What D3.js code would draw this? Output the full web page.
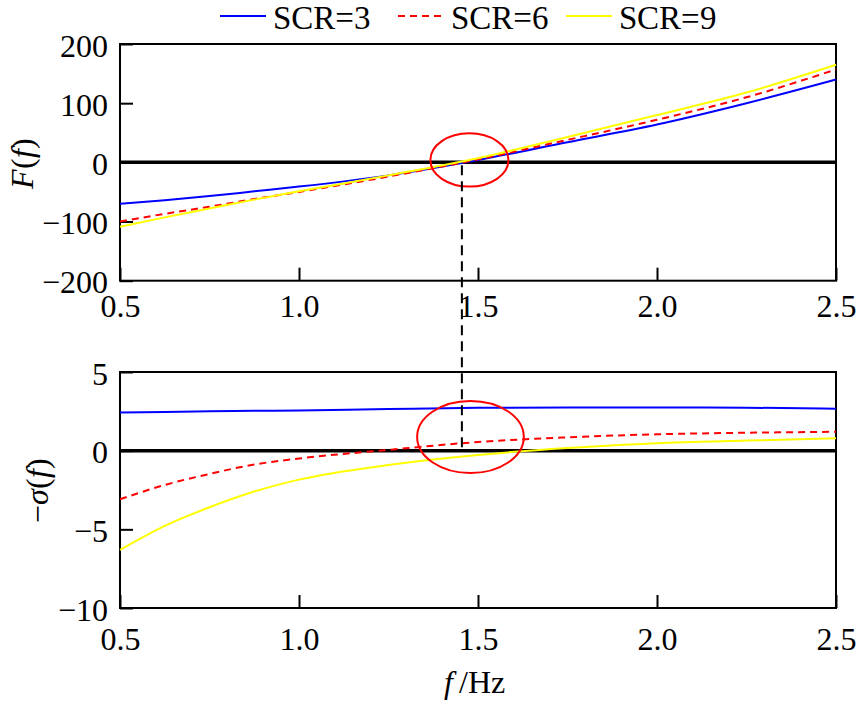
<!DOCTYPE html>
<html><head><meta charset="utf-8">
<script src="https://cdn.jsdelivr.net/npm/d3@7"></script>
<style>
@font-face { font-family: "TNR"; src: local("Liberation Serif"), local("LiberationSerif"); font-style: normal; }
@font-face { font-family: "TNR"; src: local("Liberation Serif Italic"), local("LiberationSerif-Italic"); font-style: italic; }
.tnr { font-family: "TNR", "Liberation Serif"; }
.tick text { font-family: "Liberation Serif"; }
</style>
</head><body style="margin:0;background:#fff"><svg id="c" width="856" height="701"></svg>
<script>
// ---- data ----
const freq = [0.5, 0.625, 0.75, 0.875, 1.0, 1.25, 1.5, 1.75, 2.0, 2.25, 2.5];
const seriesNames = ["SCR=3", "SCR=6", "SCR=9"];
const F_scr3 = [-70, -64, -57, -49, -41, -22, 4, 34, 64, 100, 140];
const F_scr6 = [-100, -87, -75, -62, -50, -24, 5, 38, 72, 110, 157];
const F_scr9 = [-109, -93, -78, -63, -49, -22, 7, 43, 80, 118, 165];
const S_scr3 = [2.42, 2.46, 2.5, 2.53, 2.56, 2.65, 2.72, 2.74, 2.74, 2.73, 2.67];
const S_scr6 = [-3.09, -2.18, -1.48, -0.88, -0.5, 0.05, 0.55, 0.85, 1.04, 1.14, 1.2];
const S_scr9 = [-6.31, -4.78, -3.6, -2.6, -1.84, -0.91, -0.27, 0.17, 0.47, 0.64, 0.79];
const xTicks = [0.5, 1.0, 1.5, 2.0, 2.5];
const xTickLabels = ["0.5", "1.0", "1.5", "2.0", "2.5"];
const topYTicks = [-200, -100, 0, 100, 200];
const botYTicks = [-10, -5, 0, 5];
const crossFreq = 1.455;
const topMark = {f: 1.476, v: 4, rf: 0.109, rv: 45};
const botMark = {f: 1.479, v: 0.87, rf: 0.149, rv: 2.29};

// ---- styles ----
const colors = ["#0000ff", "#ff0000", "#ffff00"];
const dashes = [null, "7,5", null];

const svg = d3.select("#c");
const x = d3.scaleLinear().domain([0.5, 2.5]).range([120, 836]);
const yTop = d3.scaleLinear().domain([-200, 200]).range([280.7, 44]);
const yBot = d3.scaleLinear().domain([-10, 5]).range([608, 372]);

function panel(y, ticks, series, labelPad, mark) {
  const g = svg.append("g");
  const xa = d3.axisBottom(x).tickValues(xTicks).tickFormat((d, i) => xTickLabels[i])
    .tickSizeInner(-13).tickSizeOuter(0).tickPadding(labelPad);
  const gx = g.append("g").attr("transform", `translate(0,${y.range()[0]})`).call(xa);
  const ya = d3.axisLeft(y).tickValues(ticks).tickFormat(d => d < 0 ? "\u2212" + Math.abs(d) : d)
    .tickSizeInner(-13).tickSizeOuter(0).tickPadding(12);
  const gy = g.append("g").attr("transform", `translate(${x.range()[0]},0)`).call(ya);
  [gx, gy].forEach(a => {
    a.attr("font-family", "Liberation Serif").attr("font-size", 32);
    a.select(".domain").remove();
    a.selectAll("line").attr("stroke", "#000").attr("stroke-width", 2);
    a.selectAll("text").attr("fill", "#000");
  });
  gy.selectAll("text").attr("dy", "0.38em");
  g.append("rect").attr("x", x.range()[0]).attr("y", y.range()[1])
    .attr("width", x.range()[1] - x.range()[0]).attr("height", y.range()[0] - y.range()[1])
    .attr("fill", "none").attr("stroke", "#000").attr("stroke-width", 2);
  g.append("line").attr("x1", x.range()[0]).attr("x2", x.range()[1])
    .attr("y1", y(0)).attr("y2", y(0)).attr("stroke", "#000").attr("stroke-width", 3.5);
  const line = d3.line().x((d, i) => x(freq[i])).y(d => y(d)).curve(d3.curveMonotoneX);
  series.forEach((s, k) => {
    g.append("path").attr("d", line(s)).attr("fill", "none")
      .attr("stroke", colors[k]).attr("stroke-width", 2)
      .attr("stroke-dasharray", dashes[k]);
  });
  g.append("ellipse").attr("cx", x(mark.f)).attr("cy", y(mark.v))
    .attr("rx", x(mark.f + mark.rf) - x(mark.f)).attr("ry", y(mark.v) - y(mark.v + mark.rv))
    .attr("fill", "none").attr("stroke", "#ff0000").attr("stroke-width", 2);
}

panel(yTop, topYTicks, [F_scr3, F_scr6, F_scr9], 13.5, topMark);
panel(yBot, botYTicks, [S_scr3, S_scr6, S_scr9], 19, botMark);

svg.append("line").attr("x1", x(crossFreq)).attr("x2", x(crossFreq))
  .attr("y1", yTop(0) + 3).attr("y2", yBot(0))
  .attr("stroke", "#000").attr("stroke-width", 2).attr("stroke-dasharray", "10,6");

const legX = [220, 398, 566];
seriesNames.forEach((n, k) => {
  svg.append("line").attr("x1", legX[k]).attr("x2", legX[k] + 46).attr("y1", 16).attr("y2", 16)
    .attr("stroke", colors[k]).attr("stroke-width", 2).attr("stroke-dasharray", dashes[k]);
  const t = svg.append("text").attr("x", legX[k] + 53).attr("y", 28.5).attr("font-size", 33).text(n);
  if (k === 0) t.style("font-family", '"Liberation Serif", monospace');
  if (k === 1) t.attr("font-family", "Liberation Serif");
  if (k === 2) t.attr("class", "tnr");
});

function richText(tx, parts) {
  const t = svg.append("text").attr("transform", tx).attr("text-anchor", "middle")
    .attr("class", "tnr").attr("font-size", 32);
  parts.forEach(([s, it]) => t.append("tspan").attr("font-style", it ? "italic" : "normal").text(s));
  return t;
}
richText("translate(33,163) rotate(-90)", [["F", 1], ["(", 0], ["f", 1], [")", 0]]);
richText("translate(48,490) rotate(-90)", [["\u2212", 0], ["\u03c3", 1], ["(", 0], ["f", 1], [")", 0]]);
richText("translate(474,693)", [["f", 1], ["\u2009/Hz", 0]]);
</script></body></html>
